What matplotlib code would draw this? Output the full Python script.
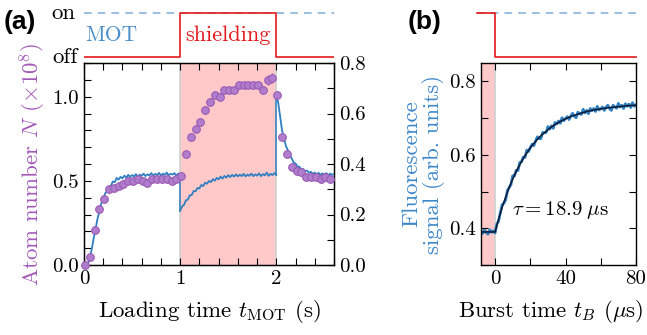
import numpy as np
import matplotlib
matplotlib.use("Agg")
import matplotlib.pyplot as plt
from matplotlib.ticker import MultipleLocator

plt.rcParams['font.family'] = ['cmr10', 'DejaVu Serif']
plt.rcParams['mathtext.fontset'] = 'cm'
plt.rcParams['axes.formatter.use_mathtext'] = True
plt.rcParams['font.size'] = 15
plt.rcParams['axes.labelsize'] = 16.5

# ---- data, panel (a) ----
# atom number (x1e8), sampled every 50 ms starting at 10 ms
atoms_N = [0.00, 0.05, 0.21, 0.33, 0.39, 0.45, 0.46, 0.47, 0.48, 0.50, 0.50,
           0.51, 0.50, 0.49, 0.51, 0.51, 0.51, 0.51, 0.50, 0.51, 0.53,
           0.66, 0.76, 0.81, 0.85, 0.92, 0.97, 1.01, 1.00, 1.04, 1.04,
           1.04, 1.07, 1.07, 1.07, 1.07, 1.07, 1.04, 1.10, 1.11, 1.01,
           0.76, 0.66, 0.58, 0.56, 0.55, 0.52, 0.52, 0.52, 0.51, 0.52, 0.51]
atoms_err = [0.01, 0.02, 0.02, 0.02, 0.02, 0.02, 0.02, 0.02, 0.02, 0.02, 0.02,
             0.02, 0.02, 0.02, 0.02, 0.02, 0.02, 0.02, 0.02, 0.02, 0.02,
             0.02, 0.02, 0.02, 0.02, 0.02, 0.02, 0.02, 0.02, 0.02, 0.02,
             0.02, 0.02, 0.02, 0.02, 0.02, 0.02, 0.02, 0.03, 0.03, 0.02,
             0.02, 0.02, 0.02, 0.02, 0.02, 0.02, 0.02, 0.02, 0.02, 0.02, 0.02]
atoms_t = 0.01 + 0.05 * np.arange(len(atoms_N))

# fluorescence (right axis), 20 ms steps; MOT only / shielding / MOT only
fl_load = [0.000, 0.000, 0.004, 0.026, 0.062, 0.104, 0.142, 0.182, 0.212, 0.245,
           0.258, 0.284, 0.292, 0.311, 0.314, 0.331, 0.328, 0.345, 0.338, 0.349,
           0.343, 0.354, 0.346, 0.357, 0.349, 0.356, 0.351, 0.360, 0.350, 0.358,
           0.353, 0.362, 0.352, 0.359, 0.355, 0.364, 0.353, 0.361, 0.356, 0.365,
           0.354, 0.362, 0.357, 0.366, 0.355, 0.361, 0.358, 0.364, 0.354, 0.362,
           0.357]
fl_shield = [0.215, 0.232, 0.238, 0.256, 0.259, 0.276, 0.277, 0.293, 0.292, 0.305,
             0.303, 0.317, 0.313, 0.326, 0.322, 0.333, 0.328, 0.340, 0.334, 0.345,
             0.339, 0.350, 0.342, 0.353, 0.346, 0.356, 0.348, 0.357, 0.350, 0.359,
             0.351, 0.358, 0.352, 0.361, 0.351, 0.358, 0.353, 0.362, 0.352, 0.359,
             0.354, 0.363, 0.352, 0.360, 0.355, 0.366, 0.353, 0.361, 0.356, 0.364,
             0.357]
fl_after = [0.677, 0.642, 0.588, 0.532, 0.503, 0.471, 0.455, 0.432, 0.423, 0.406,
            0.402, 0.390, 0.389, 0.379, 0.380, 0.371, 0.374, 0.365, 0.369, 0.361,
            0.366, 0.358, 0.365, 0.356, 0.363, 0.357, 0.364, 0.355, 0.362, 0.357,
            0.361]
t_load = np.linspace(0.0, 1.0, len(fl_load))
t_shield = np.linspace(1.0, 2.0, len(fl_shield))
t_after = np.linspace(2.0, 2.6, len(fl_after))

# ---- data, panel (b) ----
burst_sig = [0.392, 0.386, 0.395, 0.388, 0.384, 0.396, 0.389, 0.393, 0.387,
             0.412, 0.419, 0.443, 0.464, 0.468, 0.477, 0.503, 0.511, 0.519, 0.543,
             0.542, 0.558, 0.557, 0.579, 0.581, 0.594, 0.593, 0.613, 0.609, 0.620,
             0.629, 0.625, 0.638, 0.649, 0.644, 0.644, 0.661, 0.660, 0.661, 0.677,
             0.670, 0.679, 0.672, 0.688, 0.684, 0.692, 0.686, 0.701, 0.693, 0.699,
             0.704, 0.696, 0.706, 0.713, 0.705, 0.701, 0.716, 0.712, 0.710, 0.724,
             0.714, 0.721, 0.712, 0.726, 0.720, 0.726, 0.718, 0.732, 0.722, 0.726,
             0.730, 0.721, 0.730, 0.735, 0.726, 0.721, 0.735, 0.730, 0.727, 0.740,
             0.730, 0.735, 0.726, 0.739, 0.732, 0.738, 0.729, 0.742, 0.732, 0.736]
burst_t = np.arange(-8, 81)
fit_t = [-8, 0, 2, 4, 6, 8, 10, 12, 14, 16, 18, 20, 22, 24, 26, 28, 30, 32, 34,
         36, 38, 40, 44, 48, 52, 56, 60, 64, 68, 72, 76, 80]
fit_v = [0.390, 0.390, 0.425, 0.457, 0.485, 0.511, 0.534, 0.555, 0.573, 0.590,
         0.605, 0.619, 0.631, 0.642, 0.652, 0.660, 0.668, 0.676, 0.682, 0.688,
         0.693, 0.698, 0.706, 0.712, 0.718, 0.722, 0.725, 0.728, 0.730, 0.732,
         0.734, 0.735]

# colours
blue = '#2f7fc1'
light_blue = '#7eaedb'
purple = '#a25ab8'
red = '#e3191c'
pink = '#ffc9c9'
grey = '#d0d0d0'

W, H = 647, 335
fig = plt.figure(figsize=(W / 100, H / 100), dpi=100)

def box(x0, y0, x1, y1):  # pixel box -> figure fraction
    return [x0 / W, 1 - y1 / H, (x1 - x0) / W, (y1 - y0) / H]

def style(ax):
    ax.tick_params(which='both', direction='in', length=5, width=0.8,
                   top=True, bottom=True, pad=4)
    for s in ax.spines.values():
        s.set_linewidth(1.0)

# ---- panel (a) ----
axa = fig.add_axes(box(84, 63, 334, 265))
axa.axvspan(1, 2, color=pink, lw=0, zorder=0)
axa.axvline(1, color=grey, lw=1.2, zorder=0.5)
axa.axvline(2, color=grey, lw=1.2, zorder=0.5)
axa.set_xlim(0, 2.6)
axa.set_ylim(0, 1.2)
axa.xaxis.set_major_locator(MultipleLocator(1))
axa.xaxis.set_minor_locator(MultipleLocator(0.2))
axa.yaxis.set_major_locator(MultipleLocator(0.5))
axa.yaxis.set_minor_locator(MultipleLocator(0.1))
axa.set_yticks([0, 0.5, 1.0], ['0.0', '0.5', '1.0'])
axa.set_xticks([0, 1, 2], ['0', '1', '2'])
style(axa)
axa.tick_params(which='both', right=False)
axa.set_xlabel(r'Loading time $t_\mathrm{MOT}$ (s)')
axa.xaxis.set_label_coords(0.5, -0.165)
axa.set_ylabel(r'Atom number $N$ ($\times 10^8$)', color=purple, labelpad=3)

axr = axa.twinx()
axr.set_ylim(0, 0.8)
axr.yaxis.set_major_locator(MultipleLocator(0.2))
axr.yaxis.set_minor_locator(MultipleLocator(0.1))
axr.set_yticks([0, 0.2, 0.4, 0.6, 0.8], ['0.0', '0.2', '0.4', '0.6', '0.8'])
axr.tick_params(which='both', direction='in', length=5, width=0.8, pad=4)
axr.plot(t_load, fl_load, color=blue, lw=1.3)
axr.plot(t_shield, fl_shield, color=blue, lw=1.3)
axr.plot(t_after, fl_after, color=blue, lw=1.3)
axr.plot([1, 1], [fl_load[-1], fl_shield[0]], color=blue, lw=1.1)
axr.plot([2, 2], [fl_shield[-1], fl_after[0]], color=blue, lw=1.1)
axr.set_zorder(axa.get_zorder() + 1)
axr.patch.set_visible(False)

# atoms drawn on top in left-axis units
axn = axa.twinx()
axn.set_ylim(0, 1.2)
axn.axis('off')
axn.set_zorder(axr.get_zorder() + 1)
axn.errorbar(atoms_t, atoms_N, yerr=atoms_err, fmt='o', ms=5.5,
             mfc='#b07ccc', mec='#9a5cb4', mew=0.8, ecolor='#9a5cb4',
             elinewidth=1.0, capsize=0, clip_on=False, zorder=5)

# timing panel (a)
axta = fig.add_axes(box(84, 10, 334, 60))
axta.set_xlim(0, 2.6)
axta.set_ylim(-0.068, 1.068)
axta.axis('off')
axta.plot([0, 2.6], [1, 1], color=light_blue, lw=1.1, dashes=(5, 4))
axta.step([0, 1, 2, 2.6], [0, 1, 0, 0], where='post', color=red, lw=1.2)
axta.text(0.01, 0.5, 'MOT', color='#4a8fc9', fontsize=15.5, va='center', ha='left')
axta.text(1.5, 0.5, 'shielding', color=red, fontsize=16, va='center', ha='center')
axta.text(-0.09, 1.0, 'on', fontsize=16.5, va='center', ha='right')
axta.text(-0.07, 0.0, 'off', fontsize=16.5, va='center', ha='right')

# ---- panel (b) ----
axb = fig.add_axes(box(481, 63, 636, 265))
axb.axvspan(-8, 0, color=pink, lw=0, zorder=0)
axb.axvline(0, color=grey, lw=1.2, zorder=0.5)
axb.plot(burst_t, burst_sig, color=blue, lw=2.0)
axb.plot(fit_t, fit_v, color='#0a1830', lw=1.1)
axb.set_xlim(-8, 80)
axb.set_ylim(0.3, 0.85)
axb.xaxis.set_minor_locator(MultipleLocator(20))
axb.yaxis.set_minor_locator(MultipleLocator(0.1))
axb.set_xticks([0, 40, 80], ['0', '40', '80'])
axb.set_yticks([0.4, 0.6, 0.8], ['0.4', '0.6', '0.8'])
style(axb)
axb.tick_params(which='both', right=True)
axb.set_xlabel(r'Burst time $t_B$ ($\mu$s)')
axb.xaxis.set_label_coords(0.45, -0.165)
axb.set_ylabel('Fluorescence\nsignal (arb. units)', color='#3d87c8',
               labelpad=3, linespacing=1.0)
axb.text(9.5, 0.449, r'$\tau = 18.9\;\mu$s', fontsize=15, va='center')

# timing panel (b)
axtb = fig.add_axes(box(481, 10, 636, 60))
axtb.set_xlim(-8, 80)
axtb.set_ylim(-0.068, 1.068)
axtb.axis('off')
axtb.plot([-10, 80], [1, 1], color=light_blue, lw=1.1, dashes=(5, 4), clip_on=False)
axtb.step([-10, 0, 80], [1, 0, 0], where='post', color=red, lw=1.2, clip_on=False)

fig.text(4 / W, 1 - 22 / H, '(a)', fontsize=19, fontweight='bold',
         family='Liberation Sans', va='center')
fig.text(408 / W, 1 - 22 / H, '(b)', fontsize=19, fontweight='bold',
         family='Liberation Sans', va='center')

fig.savefig('out.png', dpi=100)
